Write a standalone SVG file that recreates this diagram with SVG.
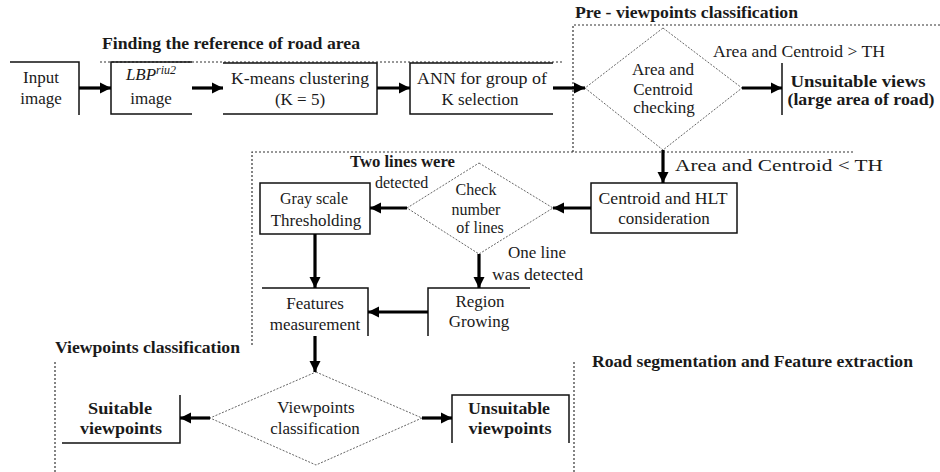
<svg xmlns="http://www.w3.org/2000/svg" width="940" height="472" viewBox="0 0 940 472" font-family="'Liberation Serif','Times New Roman',serif">
<defs>
<marker id="ah" markerUnits="userSpaceOnUse" markerWidth="12" markerHeight="12" refX="11" refY="6" orient="auto">
<path d="M0,0.5 L11,6 L0,11.5 z" fill="#000"/>
</marker>
<style>
.t{font-family:"Liberation Serif","Times New Roman",serif;font-size:17px;fill:#1a1a1a;text-anchor:middle}
.s{font-size:16px}
.b{font-weight:bold;font-size:16px}
.l{text-anchor:start}
.box{fill:none;stroke:#111;stroke-width:1.5}
.dia{fill:none;stroke:#666;stroke-width:1;stroke-dasharray:2 1.5}
.reg{fill:none;stroke:#333;stroke-width:1.2;stroke-dasharray:2 2}
.c{fill:none;stroke:#000;stroke-width:3.2;marker-end:url(#ah)}
</style>
</defs>
<rect width="940" height="472" fill="#fff"/>

<g id="regions">
<path class="reg" d="M100,62 H563"/>
<path class="reg" d="M573,152 V25 H940"/>
<path class="reg" d="M252,345 V152 H853"/>
<path class="reg" d="M55,472 V362"/>
<path class="reg" d="M574,472 V362"/>
<text class="t b l" x="102" y="49" textLength="258" lengthAdjust="spacingAndGlyphs">Finding the reference of road area</text>
<text class="t b l" x="575" y="18" textLength="223" lengthAdjust="spacingAndGlyphs">Pre - viewpoints classification</text>
<text class="t b l" x="55" y="353" textLength="185" lengthAdjust="spacingAndGlyphs">Viewpoints classification</text>
<text class="t b l" x="592" y="367" textLength="321" lengthAdjust="spacingAndGlyphs">Road segmentation and Feature extraction</text>
</g>

<g id="input">
<path class="box" d="M10,62 H79 V115"/>
<text class="t" x="41" y="83">Input</text>
<text class="t" x="41" y="104">image</text>
</g>
<g id="lbp">
<path class="box" d="M192,62 H111 V114 H192"/>
<text class="t" x="151" y="80" font-style="italic">LBP<tspan font-size="12" dy="-6">riu2</tspan></text>
<text class="t" x="151" y="104">image</text>
</g>
<g id="kmeans">
<path class="box" d="M223,63 H377 V114 H223"/>
<text class="t" x="300" y="84" textLength="138" lengthAdjust="spacingAndGlyphs">K-means clustering</text>
<text class="t" x="300" y="105">(K = 5)</text>
</g>
<g id="ann">
<path class="box" d="M553,63 H410 V114 H553"/>
<text class="t" x="482" y="84" textLength="130" lengthAdjust="spacingAndGlyphs">ANN for group of</text>
<text class="t" x="480" y="105">K selection</text>
</g>
<g id="check1">
<path class="dia" d="M663,28 L742,88 L663,150 L585,88 z"/>
<text class="t" x="663" y="75">Area and</text>
<text class="t" x="663" y="95">Centroid</text>
<text class="t" x="664" y="113">checking</text>
</g>
<g id="unsuitable-views">
<path class="box" d="M782,63 V115"/>
<text class="t b" x="858" y="87" textLength="135" lengthAdjust="spacingAndGlyphs">Unsuitable views</text>
<text class="t b" x="861" y="105" textLength="147" lengthAdjust="spacingAndGlyphs">(large area of road)</text>
</g>
<g id="centroid-hlt">
<rect class="box" x="591" y="183" width="146" height="50"/>
<text class="t" x="663" y="204" textLength="129" lengthAdjust="spacingAndGlyphs">Centroid and HLT</text>
<text class="t" x="664" y="224">consideration</text>
</g>
<g id="check-lines">
<path class="dia" d="M479,163 L553,208 L479,254 L407,208 z"/>
<text class="t s" x="476" y="195">Check</text>
<text class="t s" x="476" y="215">number</text>
<text class="t s" x="480" y="233">of lines</text>
</g>
<g id="gray">
<rect class="box" x="260" y="183" width="110" height="51"/>
<text class="t s" x="314" y="204">Gray scale</text>
<text class="t" x="316" y="226">Thresholding</text>
</g>
<g id="features">
<path class="box" d="M262,288 H368 V336"/>
<text class="t" x="315" y="309">Features</text>
<text class="t" x="315" y="330">measurement</text>
</g>
<g id="region-growing">
<path class="box" d="M530,288 H428 V336"/>
<text class="t" x="480" y="307">Region</text>
<text class="t" x="479" y="327">Growing</text>
</g>
<g id="vp-class">
<path class="dia" d="M316,372 L422,418 L316,465 L210,418 z"/>
<text class="t" x="316" y="413">Viewpoints</text>
<text class="t" x="315" y="434">classification</text>
</g>
<g id="suitable">
<path class="box" d="M62,443 H180 V395"/>
<text class="t b" x="120" y="414" textLength="64" lengthAdjust="spacingAndGlyphs">Suitable</text>
<text class="t b" x="121" y="434" textLength="82" lengthAdjust="spacingAndGlyphs">viewpoints</text>
</g>
<g id="unsuitable-vp">
<path class="box" d="M452,443 V395 H569 V443"/>
<text class="t b" x="509" y="414" textLength="82" lengthAdjust="spacingAndGlyphs">Unsuitable</text>
<text class="t b" x="510" y="434" textLength="83" lengthAdjust="spacingAndGlyphs">viewpoints</text>
</g>

<g id="connectors">
<path class="c" d="M79,88 H111"/>
<path class="c" d="M192,88 H223"/>
<path class="c" d="M377,88 H410"/>
<path class="c" d="M553,88 H585"/>
<path class="c" d="M742,88 H782"/>
<path class="c" d="M663,150 V183"/>
<path class="c" d="M591,208 H553"/>
<path class="c" d="M407,208 H370"/>
<path class="c" d="M315,234 V288"/>
<path class="c" d="M479,254 V288"/>
<path class="c" d="M428,312 H368"/>
<path class="c" d="M315,336 V372"/>
<path class="c" d="M210,418 H180"/>
<path class="c" d="M422,418 H452"/>
<text class="t l" x="713" y="57" textLength="172" lengthAdjust="spacingAndGlyphs">Area and Centroid &gt; TH</text>
<text class="t l" x="675" y="171" textLength="208" lengthAdjust="spacingAndGlyphs">Area and Centroid &lt; TH</text>
<text class="t b l" x="350" y="167" textLength="105" lengthAdjust="spacingAndGlyphs">Two lines were</text>
<text class="t s l" x="375" y="188">detected</text>
<text class="t l" x="508" y="258">One line</text>
<text class="t l" x="492" y="280" textLength="91" lengthAdjust="spacingAndGlyphs">was detected</text>
</g>
</svg>
